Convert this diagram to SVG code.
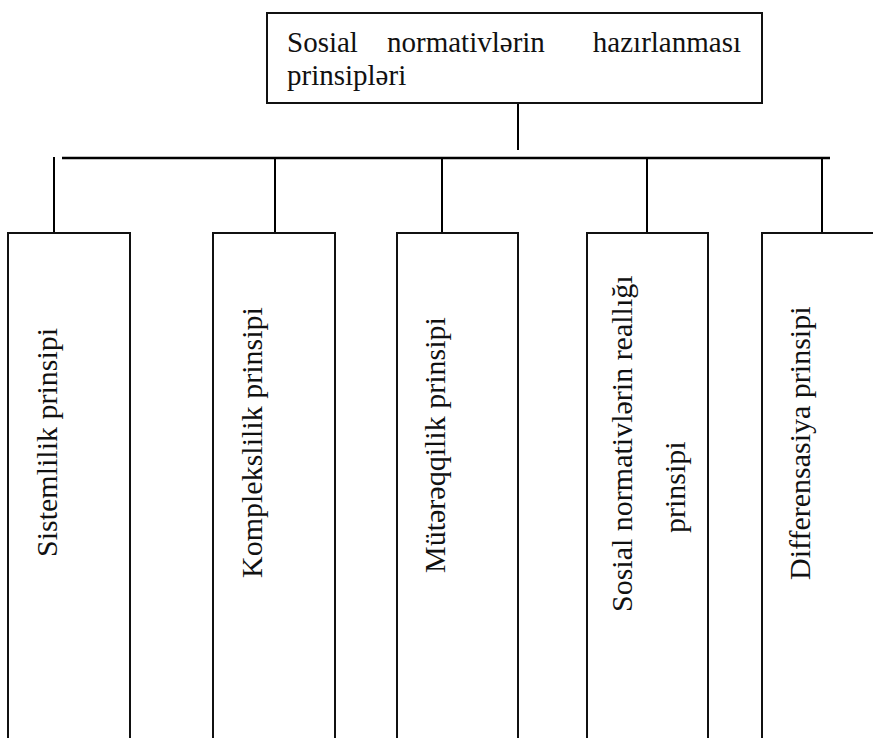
<svg xmlns="http://www.w3.org/2000/svg" width="873" height="738" viewBox="0 0 873 738">
  <style>
    .box { fill: #ffffff; stroke: #111111; stroke-width: 2; }
    .wire { fill: none; stroke: #000000; stroke-width: 2; }
    .bar { stroke-width: 2.5; }
    .lbl { font-family: "Liberation Serif", "Times New Roman", serif; font-size: 30px; fill: #111111; }
    .head { font-size: 29px; }
  </style>
  <rect x="0" y="0" width="873" height="738" fill="#ffffff"/>

  <!-- connectors: stem, bus bar and drops -->
  <g id="connectors">
    <line class="wire" x1="518" y1="103" x2="518" y2="150"/>
    <line class="wire bar" x1="62" y1="158" x2="830" y2="158"/>
    <line class="wire" x1="54" y1="157" x2="54" y2="233"/>
    <line class="wire" x1="275" y1="158" x2="275" y2="233"/>
    <line class="wire" x1="442" y1="158" x2="442" y2="233"/>
    <line class="wire" x1="647" y1="158" x2="647" y2="233"/>
    <line class="wire" x1="822" y1="158" x2="822" y2="233"/>
  </g>

  <!-- root node -->
  <g id="root">
    <rect class="box" x="267" y="13" width="495" height="90"/>
    <text class="lbl head" x="287" y="52">Sosial</text>
    <text class="lbl head" x="387" y="52">normativlərin</text>
    <text class="lbl head" x="741" y="52" text-anchor="end">hazırlanması</text>
    <text class="lbl head" x="287" y="85">prinsipləri</text>
  </g>

  <!-- principle nodes (vertical labels read bottom to top) -->
  <g id="sistemlilik">
    <rect class="box" x="8" y="233" width="122" height="520"/>
    <text class="lbl" transform="translate(57,557) rotate(-90)">Sistemlilik prinsipi</text>
  </g>

  <g id="komplekslilik">
    <rect class="box" x="213" y="233" width="122" height="520"/>
    <text class="lbl" transform="translate(262,578) rotate(-90)">Komplekslilik prinsipi</text>
  </g>

  <g id="muterqqilik">
    <rect class="box" x="397" y="233" width="121" height="520"/>
    <text class="lbl" transform="translate(445,573) rotate(-90)">Mütərəqqilik prinsipi</text>
  </g>

  <g id="reallig">
    <rect class="box" x="587" y="233" width="121" height="520"/>
    <text class="lbl" transform="translate(632,612) rotate(-90)">Sosial normativlərin reallığı</text>
    <text class="lbl" transform="translate(685,533) rotate(-90)">prinsipi</text>
  </g>

  <g id="differensasiya">
    <rect class="box" x="762" y="233" width="140" height="520"/>
    <text class="lbl" transform="translate(810,580) rotate(-90)">Differensasiya prinsipi</text>
  </g>
</svg>
